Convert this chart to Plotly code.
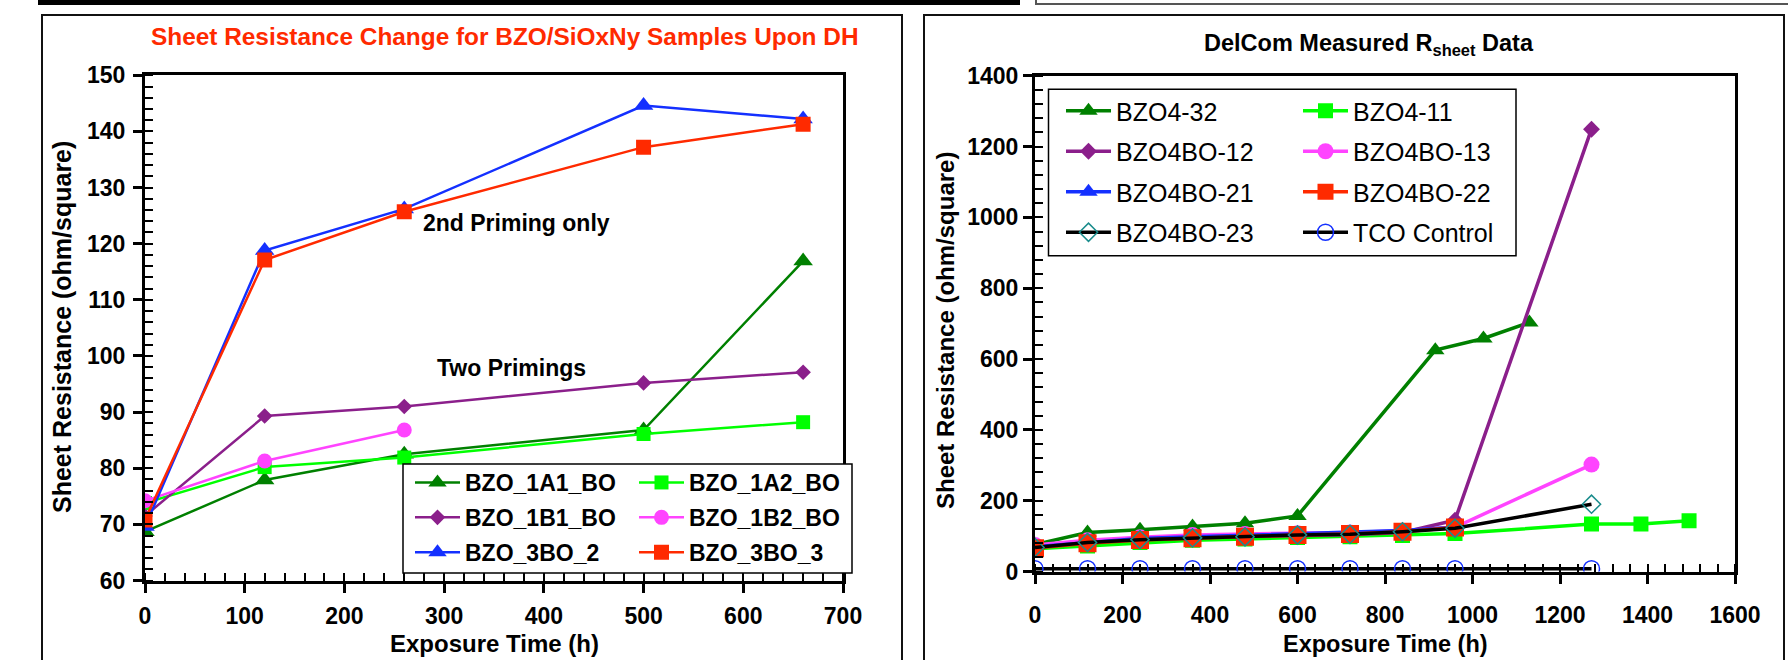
import plotly.graph_objects as go

W, H = 1788, 660

# ---------------- Left chart data ----------------
left_names = ["BZO_1A1_BO", "BZO_1A2_BO", "BZO_1B1_BO", "BZO_1B2_BO", "BZO_3BO_2", "BZO_3BO_3"]
left_x = [0, 120, 260, 500, 660]
left_x_1b2 = [0, 120, 260]
bzo_1a1_bo = [68.7, 77.9, 82.5, 86.8, 116.9]
bzo_1a2_bo = [73.8, 80.2, 81.9, 86.1, 88.2]
bzo_1b1_bo = [71.5, 89.3, 91.0, 95.2, 97.1]
bzo_1b2_bo = [74.2, 81.3, 86.8]
bzo_3bo_2 = [69.6, 118.8, 126.2, 144.6, 142.2]
bzo_3bo_3 = [70.8, 117.1, 125.7, 137.2, 141.3]

# ---------------- Right chart data ----------------
right_names = ["BZO4-32", "BZO4-11", "BZO4BO-12", "BZO4BO-13",
               "BZO4BO-21", "BZO4BO-22", "BZO4BO-23", "TCO Control"]
x_main = [0, 120, 240, 360, 480, 600, 720, 840, 960]
x_main_end = [0, 120, 240, 360, 480, 600, 720, 840, 960, 1272]
x_bzo4_32 = [0, 120, 240, 360, 480, 600, 915, 1025, 1130]
x_bzo4_11 = [0, 120, 240, 360, 480, 600, 720, 840, 960, 1272, 1385, 1495]
bzo4_32 = [76, 110, 118, 127, 136, 157, 625, 658, 703]
bzo4_11 = [64, 72, 82, 88, 92, 96, 98, 102, 107, 134, 134, 143]
bzo4bo_12 = [72, 82, 92, 97, 100, 103, 104, 110, 145, 1249]
bzo4bo_13 = [75, 88, 97, 103, 106, 108, 110, 115, 125, 302]
bzo4bo_21 = [70, 82, 93, 98, 102, 106, 110, 116, 125]
bzo4bo_22 = [66, 80, 89, 94, 98, 103, 106, 112, 124]
bzo4bo_23 = [68, 82, 90, 95, 98, 103, 105, 112, 122, 190]
tco_control = [8, 8, 8, 8, 8, 8, 8, 8, 8, 8]

FONT = "Liberation Sans, Arial, sans-serif"


def px(x):
    return x / W


def py(y):
    return 1 - y / H


fig = go.Figure()

# ----- left traces -----
left_specs = [
    (left_x, bzo_1a1_bo, left_names[0], "#008000", "triangle-up", 17, "legend"),
    (left_x, bzo_1a2_bo, left_names[1], "#00FF00", "square", 14, "legend2"),
    (left_x, bzo_1b1_bo, left_names[2], "#8B1F8B", "diamond", 12, "legend"),
    (left_x_1b2, bzo_1b2_bo, left_names[3], "#FF44FF", "circle", 15, "legend2"),
    (left_x, bzo_3bo_2, left_names[4], "#1430FF", "triangle-up", 17, "legend"),
    (left_x, bzo_3bo_3, left_names[5], "#FF2A00", "square", 15, "legend2"),
]
for xs, ys, name, col, sym, size, lg in left_specs:
    fig.add_trace(go.Scatter(
        x=xs, y=ys, name=name, mode="lines+markers",
        line=dict(color=col, width=2.5),
        marker=dict(symbol=sym, size=size, color=col),
        xaxis="x", yaxis="y", legend=lg, legendgroup=name))

# ----- right traces -----
right_specs = [
    (x_bzo4_32, bzo4_32, right_names[0], "#008000", "#008000", "triangle-up", 16, "legend3"),
    (x_bzo4_11, bzo4_11, right_names[1], "#00FF00", "#00FF00", "square", 15, "legend4"),
    (x_main_end, bzo4bo_12, right_names[2], "#8B1F8B", "#8B1F8B", "diamond", 13, "legend3"),
    (x_main_end, bzo4bo_13, right_names[3], "#FF44FF", "#FF44FF", "circle", 16, "legend4"),
    (x_main, bzo4bo_21, right_names[4], "#1430FF", "#1430FF", "triangle-up", 16, "legend3"),
    (x_main, bzo4bo_22, right_names[5], "#FF2A00", "#FF2A00", "square", 18, "legend4"),
    (x_main_end, bzo4bo_23, right_names[6], "#000000", "#1A8C8C", "diamond-open", 14, "legend3"),
    (x_main_end, tco_control, right_names[7], "#000000", "#1430FF", "circle-open", 16, "legend4"),
]
for xs, ys, name, lcol, mcol, sym, size, lg in right_specs:
    mk = dict(symbol=sym, size=size, color=mcol)
    if sym.endswith("open"):
        mk["line"] = dict(color=mcol, width=1.5)
    fig.add_trace(go.Scatter(
        x=xs, y=ys, name=name, mode="lines+markers",
        line=dict(color=lcol, width=3.5),
        marker=mk,
        xaxis="x2", yaxis="y2", legend=lg, legendgroup=name))

tick_font = dict(family=FONT, size=23, color="black", weight="bold")


def axis(domain, rng, dtick, mdtick, anchor, standoff):
    return dict(
        domain=domain, range=rng, dtick=dtick, tick0=0, anchor=anchor,
        showline=True, linewidth=3, linecolor="black", mirror=True,
        ticks="outside", ticklen=9, tickwidth=3, tickcolor="black",
        minor=dict(dtick=mdtick, ticks="inside", ticklen=8, tickwidth=2, tickcolor="black"),
        showgrid=False, zeroline=False, tickfont=tick_font, automargin=False,
        ticklabelstandoff=standoff, fixedrange=True)


fig.update_layout(
    width=W, height=H,
    margin=dict(l=0, r=0, t=0, b=0, pad=0, autoexpand=False),
    paper_bgcolor="white", plot_bgcolor="white",
    font=dict(family=FONT, color="black"),
    xaxis=axis([px(145), px(843)], [0, 700], 100, 20, "y", 4),
    yaxis=axis([py(580.5), py(75.3)], [60, 150], 10, 2, "x", 3),
    xaxis2=axis([px(1035), px(1735)], [0, 1600], 200, 40, "y2", 12),
    yaxis2=axis([py(571.5), py(75.7)], [0, 1400], 200, 40, "x2", 0),
)

leg_common = dict(bgcolor="rgba(0,0,0,0)", borderwidth=0, xanchor="left", yanchor="top",
                  itemwidth=45, traceorder="grouped", itemclick=False, itemdoubleclick=False)
left_leg_font = dict(family=FONT, size=23, color="black", weight="bold")
right_leg_font = dict(family=FONT, size=25, color="black")
fig.update_layout(
    legend=dict(x=px(410), y=py(461), font=left_leg_font, tracegroupgap=2, **leg_common),
    legend2=dict(x=px(634), y=py(461), font=left_leg_font, tracegroupgap=2, **leg_common),
    legend3=dict(x=px(1061), y=py(88), font=right_leg_font, tracegroupgap=5, **leg_common),
    legend4=dict(x=px(1298), y=py(88), font=right_leg_font, tracegroupgap=5, **leg_common),
)

shapes = [
    # panel frames
    dict(type="rect", xref="paper", yref="paper", x0=px(42), x1=px(902), y0=py(700), y1=py(15),
         line=dict(color="#111", width=2), layer="below"),
    dict(type="rect", xref="paper", yref="paper", x0=px(924), x1=px(1784), y0=py(700), y1=py(15),
         line=dict(color="#111", width=2), layer="below"),
    # top decorations
    dict(type="rect", xref="paper", yref="paper", x0=px(38), x1=px(1020), y0=py(5), y1=py(-5),
         line=dict(width=0), fillcolor="black", layer="below"),
    dict(type="rect", xref="paper", yref="paper", x0=px(1036), x1=px(1800), y0=py(4), y1=py(-10),
         line=dict(color="#555", width=2), fillcolor="white", layer="below"),
    # legend boxes
    dict(type="rect", xref="paper", yref="paper", x0=px(403), x1=px(852), y0=py(573), y1=py(464),
         line=dict(color="black", width=1.5), fillcolor="white", layer="above"),
    dict(type="rect", xref="paper", yref="paper", x0=px(1048.5), x1=px(1516), y0=py(255.7), y1=py(89.3),
         line=dict(color="black", width=1.5), fillcolor="white", layer="above"),
]
fig.update_layout(shapes=shapes)

bold = lambda s, c="black": dict(family=FONT, size=s, color=c, weight="bold")
ann = [
    dict(text="Sheet Resistance Change for BZO/SiOxNy Samples Upon DH", x=px(505), y=py(37),
         font=bold(24.4, "#FF2A00")),
    dict(text="DelCom Measured R<sub>sheet</sub> Data", x=px(1369), y=py(45), font=bold(23.5)),
    dict(text="Sheet Resistance (ohm/square)", x=px(62), y=py(327), textangle=-90, font=bold(25)),
    dict(text="Sheet Resistance (ohm/square)", x=px(946), y=py(331), textangle=-90, font=bold(24)),
    dict(text="Exposure Time (h)", x=px(494), y=py(643), font=bold(24)),
    dict(text="Exposure Time (h)", x=px(1385), y=py(644), font=bold(23.5)),
    dict(text="2nd Priming only", x=px(421), y=py(223), xanchor="left", font=bold(23)),
    dict(text="Two Primings", x=px(435), y=py(368), xanchor="left", font=bold(23)),
]
for a in ann:
    a.setdefault("xanchor", "center")
    a.update(xref="paper", yref="paper", yanchor="middle", showarrow=False)
fig.update_layout(annotations=ann)

fig.write_html("out.html", config={"displayModeBar": False},
               post_script="document.body.style.margin='0px';document.body.style.overflow='hidden';")
